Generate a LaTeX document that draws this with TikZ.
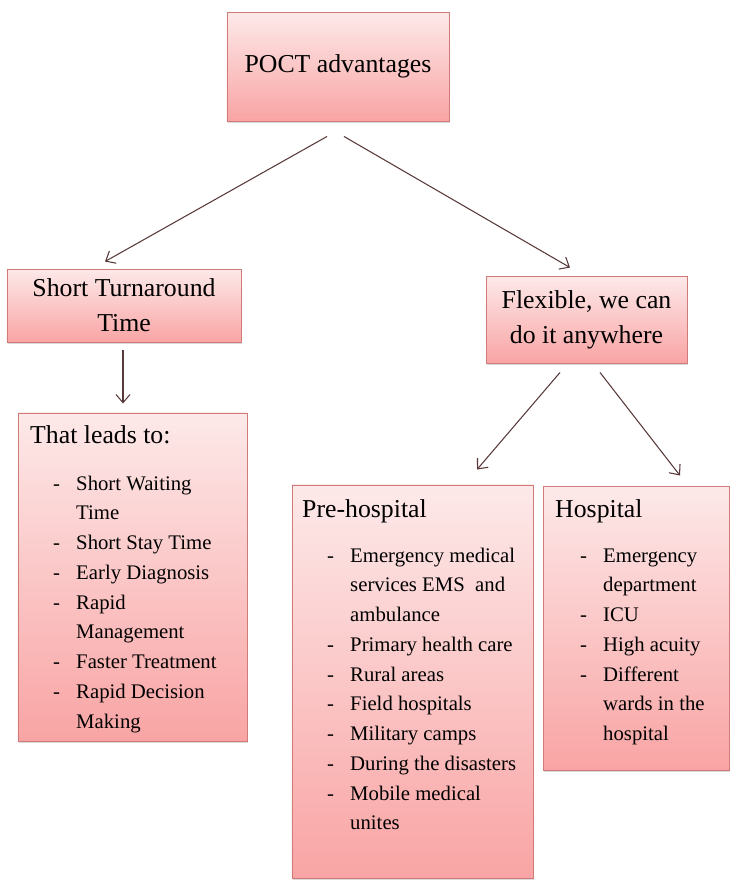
\documentclass[tikz,border=0pt]{standalone}
\usepackage{fontspec}
\setmainfont{Liberation Serif}
\usetikzlibrary{arrows.meta,calc,shadows}

\definecolor{cajaarriba}{RGB}{253,233,233}
\definecolor{cajaabajo}{RGB}{249,164,164}
\definecolor{cajaborde}{RGB}{208,122,122}
\definecolor{flecha}{RGB}{88,56,56}

\newcommand{\titulofont}{\fontsize{22}{30}\selectfont}
\newcommand{\listafont}{\fontsize{17.7}{25.4}\selectfont}

\tikzset{
  caja/.style={draw=cajaborde, line width=0.8pt, top color=cajaarriba, bottom color=cajaabajo,
    drop shadow={shadow xshift=1.2pt, shadow yshift=-1.5pt, opacity=0.3}, inner sep=0pt},
  titulo/.style={font=\titulofont, align=center, inner sep=0pt},
  encabezado/.style={font=\titulofont, anchor=base west, inner sep=0pt},
  lista/.style={font=\listafont, anchor=base west, inner sep=0pt},
  conector/.style={flecha, line width=0.9pt, -{Straight Barb[length=7pt,width=12pt]}}
}

\begin{document}
\begin{tikzpicture}[x=0.03cm, y=-0.03cm]
\useasboundingbox (0,0) rectangle (750,890);

%cajas de arriba
\node [caja, minimum width=6.66cm, minimum height=3.27cm] (poct) at (338,66.5) {};
\node [titulo] (poct-t) at (poct.center) {POCT advantages};

\node [caja, minimum width=7.02cm, minimum height=2.19cm] (corto) at (124,305.5) {};
\node [titulo] (corto-t) at (corto.center) {Short Turnaround\\Time};

\node [caja, minimum width=6.03cm, minimum height=2.61cm] (flex) at (586.5,319.5) {};
\node [titulo] (flex-t) at (flex.center) {Flexible, we can\\do it anywhere};

%cajas con listas
\node [caja, minimum width=6.87cm, minimum height=9.84cm] (lleva) at (132.5,577) {};
\node [encabezado] (lleva-t) at (30,443) {That leads to:};
\node [lista] (lleva-l) at (53,490) {\begin{tabular}[t]{@{}p{0.69cm}@{}l@{}}
- & Short Waiting\\
  & Time\\
- & Short Stay Time\\
- & Early Diagnosis\\
- & Rapid\\
  & Management\\
- & Faster Treatment\\
- & Rapid Decision\\
  & Making
\end{tabular}};

\node [caja, minimum width=7.23cm, minimum height=11.79cm] (pre) at (412.5,681.5) {};
\node [encabezado] (pre-t) at (302,517) {Pre-hospital};
\node [lista] (pre-l) at (327,562) {\begin{tabular}[t]{@{}p{0.69cm}@{}l@{}}
- & Emergency medical\\
  & services EMS\ \ and\\
  & ambulance\\
- & Primary health care\\
- & Rural areas\\
- & Field hospitals\\
- & Military camps\\
- & During the disasters\\
- & Mobile medical\\
  & unites
\end{tabular}};

\node [caja, minimum width=5.58cm, minimum height=8.52cm] (hosp) at (636,628) {};
\node [encabezado] (hosp-t) at (555,517) {Hospital};
\node [lista] (hosp-l) at (580,562) {\begin{tabular}[t]{@{}p{0.69cm}@{}l@{}}
- & Emergency\\
  & department\\
- & ICU\\
- & High acuity\\
- & Different\\
  & wards in the\\
  & hospital
\end{tabular}};

%flechas entre cajas
\draw [conector] ($(poct.south)+(-11,15)$) -- ($(corto.north)+(-19,-7)$);
\draw [conector] ($(poct.south)+(6,15)$) -- ($(flex.north)+(-16.5,-8)$);
\draw [conector] ($(corto.south)+(-1,8)$) -- ($(lleva.north)+(-9.5,-9)$);
\draw [conector] ($(flex.south)+(-26.5,9)$) -- ($(pre.north)+(64.5,-15)$);
\draw [conector] ($(flex.south)+(13.5,9)$) -- ($(hosp.north)+(44,-10)$);
\end{tikzpicture}
\end{document}
